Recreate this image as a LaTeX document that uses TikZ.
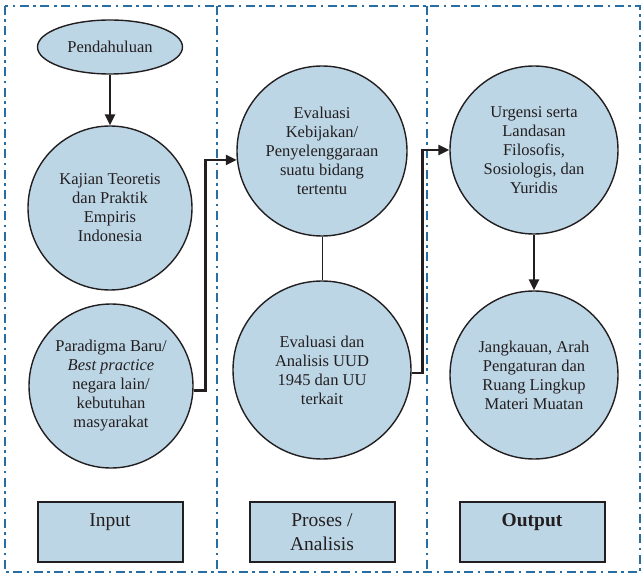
\documentclass[tikz,border=0pt]{standalone}
\usepackage{fontspec}
\setmainfont{Liberation Serif}
\usetikzlibrary{shapes.geometric,arrows.meta}
\definecolor{panelblue}{RGB}{40,110,162}
\definecolor{bubblefill}{RGB}{189,214,230}
\definecolor{ink}{RGB}{35,31,32}
\begin{document}
\begin{tikzpicture}[x=1pt,y=-1pt,
  txt/.style={font=\fontsize{16.5}{19}\selectfont, text=ink, align=center},
  bubble/.style={circle, draw=ink, line width=1.4pt, fill=bubblefill, inner sep=0pt, txt},
  oval/.style={ellipse, draw=ink, line width=1.4pt, fill=bubblefill,
    minimum width=145pt, minimum height=54pt, inner sep=0pt, txt},
  labelbox/.style={rectangle, draw=ink, line width=2pt, fill=bubblefill,
    minimum width=145pt, minimum height=60pt,
    font=\fontsize{19.5}{24}\selectfont, text=ink, align=center},
  flow/.style={draw=ink, line width=2.4pt, -{Triangle[length=11pt,width=10pt]}},
  link/.style={draw=ink, line width=1pt},
  panel/.style={draw=panelblue, line width=2pt,
    dash pattern=on 9pt off 4.5pt on 2.5pt off 4.5pt}
]
\useasboundingbox (0,0) rectangle (643,575);

% dash-dot frame split into three columns
\draw[panel] (5,6) rectangle (640,572);
\draw[panel] (217,6) -- (217,572);
\draw[panel] (427,6) -- (427,572);

% input column
\node[oval] (pend) at (110,47) {Pendahuluan};
\node[bubble, minimum size=164pt] (kajian) at (110,208)
  {Kajian Teoretis\\dan Praktik\\Empiris\\Indonesia};
\node[bubble, minimum size=164pt] (para) at (111,386)
  {Paradigma Baru/\\\textit{Best practice}\\negara lain/\\kebutuhan\\masyarakat};

% process column
\node[bubble, minimum size=170pt] (evkeb) at (322,151)
  {Evaluasi\\Kebijakan/\\Penyelenggaraan\\suatu bidang\\tertentu};
\node[bubble, minimum size=178pt] (evuud) at (322,370)
  {Evaluasi dan\\Analisis UUD\\1945 dan UU\\terkait};

% output column
\node[bubble, minimum size=168pt] (urg) at (534,150)
  {Urgensi serta\\Landasan\\Filosofis,\\Sosiologis, dan\\Yuridis};
\node[bubble, minimum size=168pt] (jang) at (534,375)
  {Jangkauan, Arah\\Pengaturan dan\\Ruang Lingkup\\Materi Muatan};

% column captions
\node[labelbox] (inp) at (110,532) {Input\\\mbox{}};
\node[labelbox] (pro) at (322,532) {Proses /\\Analisis};
\node[labelbox] (outp) at (532,532) {\textbf{Output}\\\mbox{}};

% connectors
\draw[flow] (pend.south) -- (kajian.north);
\draw[flow] (para.-3) -- ++(12,0) |- (evkeb.186);
\draw[link] (evkeb.south) -- (evuud.north);
\draw[flow] (evuud.-2) -- ++(11,0) |- (urg.west);
\draw[flow] (urg.south) -- (jang.north);
\end{tikzpicture}
\end{document}
